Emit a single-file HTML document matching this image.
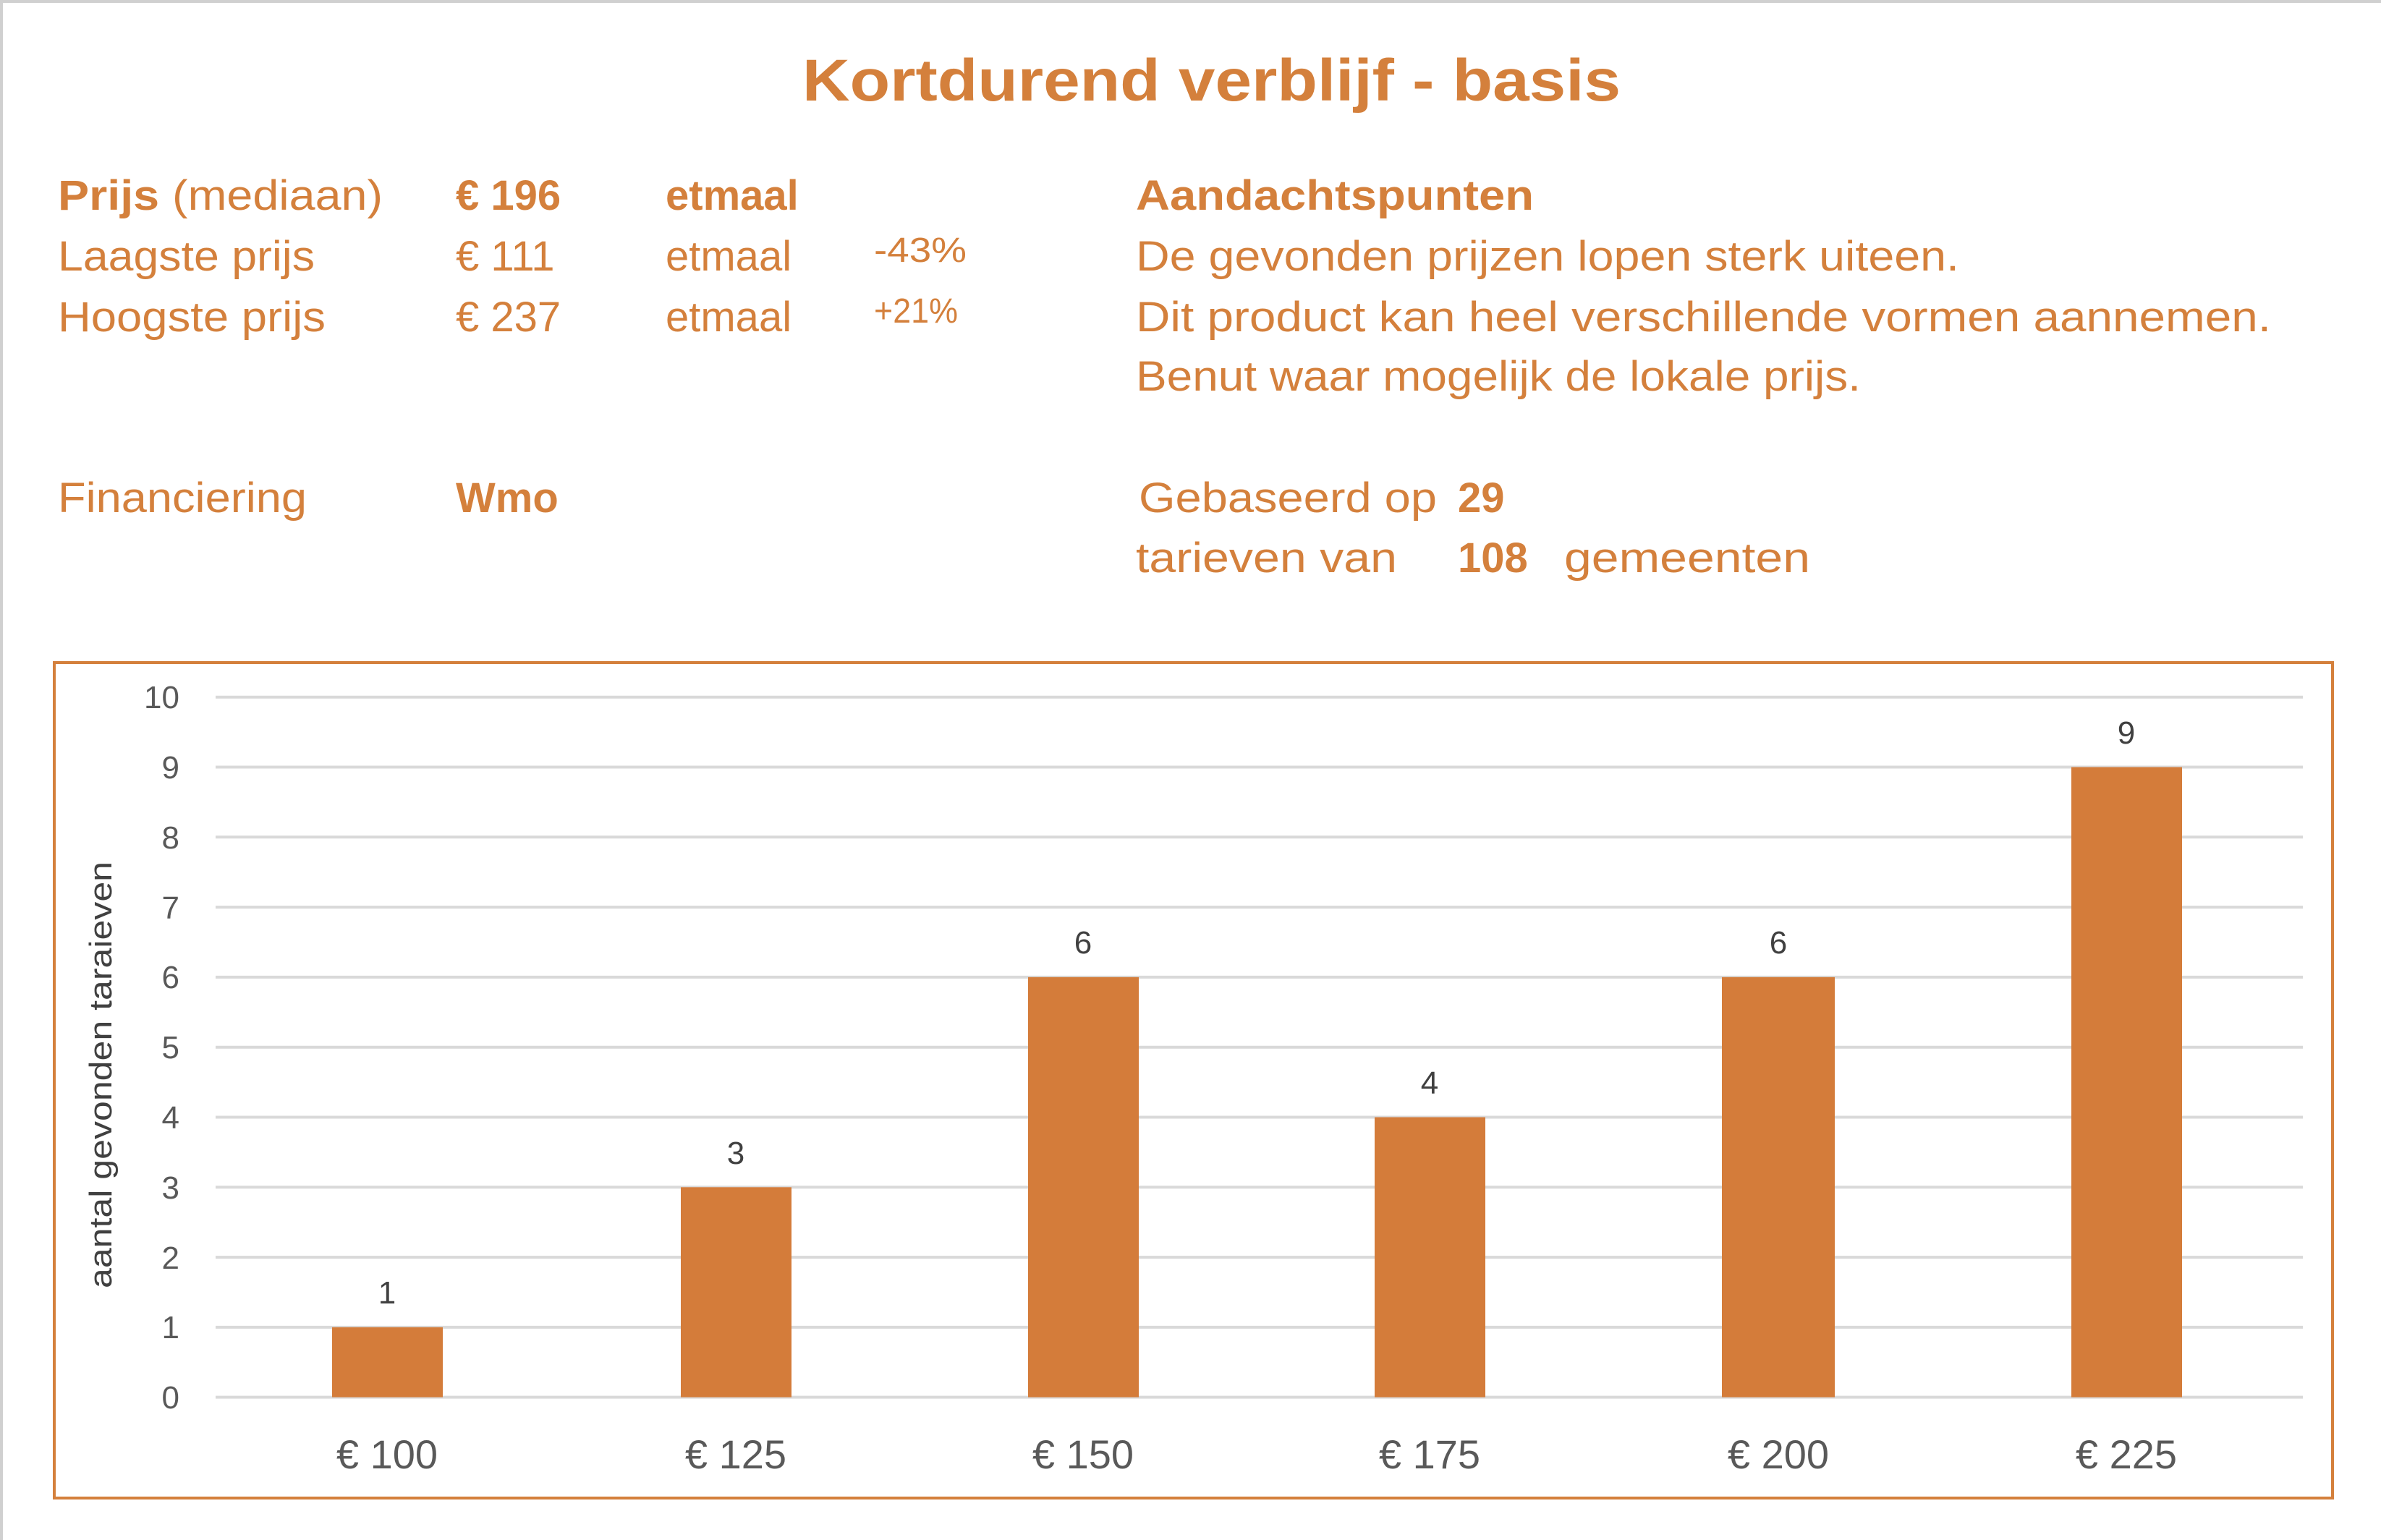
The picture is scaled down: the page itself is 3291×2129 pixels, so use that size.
<!DOCTYPE html>
<html><head><meta charset="utf-8"><style>
html,body{margin:0;padding:0;background:#fff}
svg{display:block}
text{font-family:"Liberation Sans",sans-serif}
</style></head><body>
<svg width="3291" height="2129" viewBox="0 0 3291 2129" xmlns="http://www.w3.org/2000/svg">
<rect width="3291" height="2129" fill="#fff"/>
<rect x="0" y="0" width="3291" height="4" fill="#d0d0d0"/>
<rect x="0" y="0" width="4" height="2129" fill="#d0d0d0"/>
<g fill="#D4803C">
<text x="1109" y="139" font-size="82" font-weight="bold" textLength="1131" lengthAdjust="spacingAndGlyphs">Kortdurend verblijf - basis</text>
<text x="80" y="290" font-size="58" textLength="449" lengthAdjust="spacingAndGlyphs"><tspan font-weight="bold">Prijs</tspan> (mediaan)</text>
<text x="630" y="290" font-size="58" font-weight="bold">€ 196</text>
<text x="920" y="290" font-size="58" font-weight="bold">etmaal</text>
<text x="1570" y="290" font-size="58" font-weight="bold" textLength="550" lengthAdjust="spacingAndGlyphs">Aandachtspunten</text>
<text x="80" y="374" font-size="58" textLength="355" lengthAdjust="spacingAndGlyphs">Laagste prijs</text>
<text x="630" y="374" font-size="58">€ 111</text>
<text x="920" y="374" font-size="58">etmaal</text>
<text x="1208" y="362" font-size="48" textLength="128" lengthAdjust="spacingAndGlyphs">-43%</text>
<text x="1570" y="374" font-size="58" textLength="1138" lengthAdjust="spacingAndGlyphs">De gevonden prijzen lopen sterk uiteen.</text>
<text x="80" y="458" font-size="58" textLength="370" lengthAdjust="spacingAndGlyphs">Hoogste prijs</text>
<text x="630" y="458" font-size="58">€ 237</text>
<text x="920" y="458" font-size="58">etmaal</text>
<text x="1208" y="446" font-size="48" textLength="116" lengthAdjust="spacingAndGlyphs">+21%</text>
<text x="1570" y="458" font-size="58" textLength="1569" lengthAdjust="spacingAndGlyphs">Dit product kan heel verschillende vormen aannemen.</text>
<text x="1570" y="540" font-size="58" textLength="1002" lengthAdjust="spacingAndGlyphs">Benut waar mogelijk de lokale prijs.</text>
<text x="80" y="708" font-size="58" textLength="344" lengthAdjust="spacingAndGlyphs">Financiering</text>
<text x="630" y="708" font-size="58" font-weight="bold">Wmo</text>
<text x="1574" y="708" font-size="58" textLength="412" lengthAdjust="spacingAndGlyphs">Gebaseerd op</text>
<text x="2015" y="708" font-size="58" font-weight="bold">29</text>
<text x="1570" y="791" font-size="58" textLength="361" lengthAdjust="spacingAndGlyphs">tarieven van</text>
<text x="2015" y="791" font-size="58" font-weight="bold">108</text>
<text x="2162" y="791" font-size="58" textLength="340" lengthAdjust="spacingAndGlyphs">gemeenten</text>
</g>
<rect x="75" y="916" width="3149" height="1155" fill="none" stroke="#D4803C" stroke-width="4"/>
<g stroke="#d9d9d9" stroke-width="4">
<line x1="298" x2="3183" y1="963.7" y2="963.7"/>
<line x1="298" x2="3183" y1="1060.5" y2="1060.5"/>
<line x1="298" x2="3183" y1="1157.3" y2="1157.3"/>
<line x1="298" x2="3183" y1="1254.1" y2="1254.1"/>
<line x1="298" x2="3183" y1="1350.9" y2="1350.9"/>
<line x1="298" x2="3183" y1="1447.7" y2="1447.7"/>
<line x1="298" x2="3183" y1="1544.5" y2="1544.5"/>
<line x1="298" x2="3183" y1="1641.3" y2="1641.3"/>
<line x1="298" x2="3183" y1="1738.1" y2="1738.1"/>
<line x1="298" x2="3183" y1="1834.9" y2="1834.9"/>
<line x1="298" x2="3183" y1="1931.6" y2="1931.6"/>
</g>
<g fill="#595959" font-size="44" text-anchor="end">
<text x="248" y="979">10</text><text x="248" y="1076">9</text><text x="248" y="1173">8</text>
<text x="248" y="1270">7</text><text x="248" y="1366">6</text><text x="248" y="1463">5</text>
<text x="248" y="1560">4</text><text x="248" y="1657">3</text><text x="248" y="1754">2</text>
<text x="248" y="1850">1</text><text x="248" y="1947">0</text>
</g>
<text transform="translate(154,1486) rotate(-90)" text-anchor="middle" font-size="44" fill="#404040" textLength="590" lengthAdjust="spacingAndGlyphs">aantal gevonden taraieven</text>
<g fill="#D47C3A">
<rect x="459" y="1834.9" width="153" height="96.7"/>
<rect x="941" y="1641.3" width="153" height="290.3"/>
<rect x="1421" y="1350.9" width="153" height="580.7"/>
<rect x="1900" y="1544.5" width="153" height="387.1"/>
<rect x="2380" y="1350.9" width="156" height="580.7"/>
<rect x="2863" y="1060.5" width="153" height="871.1"/>
</g>
<g fill="#404040" font-size="44" text-anchor="middle">
<text x="535" y="1802">1</text><text x="1017" y="1609">3</text><text x="1497" y="1318">6</text>
<text x="1976" y="1512">4</text><text x="2458" y="1318">6</text><text x="2939" y="1028">9</text>
</g>
<g fill="#595959" font-size="56" text-anchor="middle">
<text x="535" y="2030">€ 100</text><text x="1017" y="2030">€ 125</text><text x="1497" y="2030">€ 150</text>
<text x="1976" y="2030">€ 175</text><text x="2458" y="2030">€ 200</text><text x="2939" y="2030">€ 225</text>
</g>
</svg>
</body></html>
